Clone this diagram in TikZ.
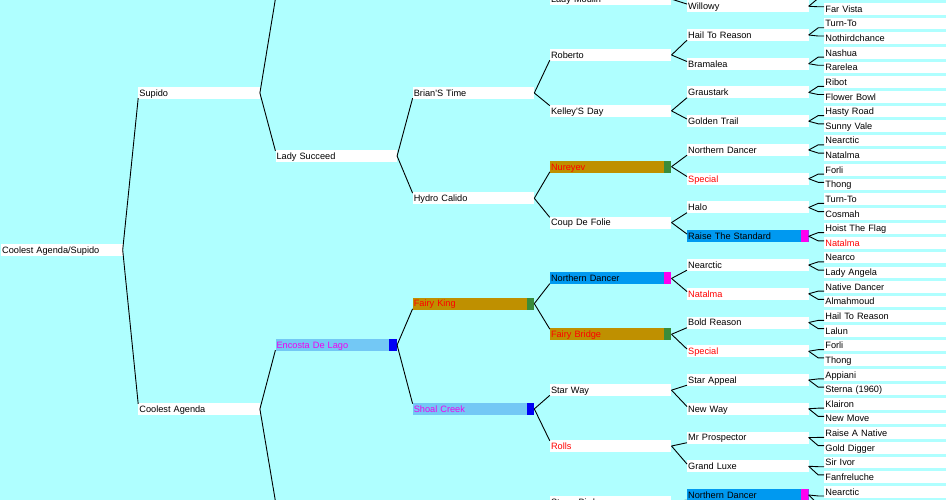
\documentclass[tikz,border=0pt]{standalone}
\usepackage{fontspec}
\setmainfont{Liberation Sans}
\definecolor{bg}{RGB}{175,255,255}
\definecolor{gold}{RGB}{191,144,0}
\definecolor{sqgreen}{RGB}{58,140,58}
\definecolor{nblue}{RGB}{0,153,240}
\definecolor{sqmag}{RGB}{255,0,240}
\definecolor{lblue}{RGB}{115,200,245}
\definecolor{sqblue}{RGB}{0,0,245}
\definecolor{txtmag}{RGB}{240,0,240}
\definecolor{txtred}{RGB}{255,0,0}
\tikzset{
  conn/.style={draw=black,line width=0.9pt},
  box/.style={fill=white,anchor=west,inner xsep=1pt,inner ysep=0pt,text width=119.3pt,align=left,
    minimum height=12pt,text height=9.3pt,text depth=2.7pt,font=\fontsize{9.2}{11}\selectfont},
  boxg/.style={box,minimum height=11.6pt,text height=9.1pt,text depth=2.5pt,text width=125pt},
  redtxt/.style={text=txtred},
  tagged/.style 2 args={fill=#1,path picture={\fill[#2] ([xshift=-7.5pt]path picture bounding box.north east) rectangle (path picture bounding box.south east);}},
  goldbox/.style={tagged={gold}{sqgreen},text=txtred},
  bluebox/.style={tagged={nblue}{sqmag}},
  lbluebox/.style={tagged={lblue}{sqblue},text=txtmag}}
\newcommand\linkup[2]{\draw[conn] (#1.east) -- ([yshift=1pt]#2.south west);}
\newcommand\linkdn[2]{\draw[conn] (#1.east) -- ([yshift=-1pt]#2.north west);}
\newcommand\linkdnb[2]{\draw[conn] (#1.east) -- ([yshift=-4pt]#2.north west);}
\newcommand\linkupg[2]{\draw[conn] (#1.east) -- ([xshift=-6pt,yshift=1.8pt]#2.south west) -- ([yshift=1.8pt]#2.south west);}
\newcommand\linkdng[2]{\draw[conn] (#1.east) -- ([xshift=-6pt,yshift=-3.8pt]#2.north west) -- ([yshift=-3.8pt]#2.north west);}
\begin{document}
\begin{tikzpicture}[x=1pt,y=-1pt]
\useasboundingbox (0,0) rectangle (946,500);
\clip (0,0) rectangle (946,500);
\fill[bg] (0,0) rectangle (946,500);
% column 0
\node[box] (a) at (1,250) {Coolest Agenda/Supido};
% column 1
\node[box] (b0) at (138.2,93) {Supido};
\node[box] (b1) at (138.2,409) {Coolest Agenda};
% column 2
\coordinate (c2t) at (275.4,-1);
\node[box] (c0) at (275.4,156) {Lady Succeed};
\node[box,lbluebox] (c1) at (275.4,345) {Encosta De Lago};
\coordinate (c2b) at (275.4,501);
% column 3
\node[box] (d0) at (412.6,93) {Brian\textquotesingle S Time};
\node[box] (d1) at (412.6,198.3) {Hydro Calido};
\node[box,goldbox] (d2) at (412.6,303.6) {Fairy King};
\node[box,lbluebox] (d3) at (412.6,408.9) {Shoal Creek};
% column 4
\node[box] (eM) at (549.8,-0.86) {Lady Moulin};
\node[box] (e0) at (549.8,55) {Roberto};
\node[box] (e1) at (549.8,110.86) {Kelley\textquotesingle S Day};
\node[box,goldbox] (e2) at (549.8,166.72) {Nureyev};
\node[box] (e3) at (549.8,222.58) {Coup De Folie};
\node[box,bluebox] (e4) at (549.8,278.44) {Northern Dancer};
\node[box,goldbox] (e5) at (549.8,334.3) {Fairy Bridge};
\node[box] (e6) at (549.8,390.16) {Star Way};
\node[box,redtxt] (e7) at (549.8,446.02) {Rolls};
\node[box] (e8) at (549.8,501.88) {Storm Bird};
% column 5
\node[box] (fM) at (687,6.25) {Willowy};
\node[box] (f0) at (687,35) {Hail To Reason};
\node[box] (f1) at (687,63.75) {Bramalea};
\node[box] (f2) at (687,92.5) {Graustark};
\node[box] (f3) at (687,121.25) {Golden Trail};
\node[box] (f4) at (687,150) {Northern Dancer};
\node[box,redtxt] (f5) at (687,178.75) {Special};
\node[box] (f6) at (687,207.5) {Halo};
\node[box,bluebox] (f7) at (687,236.25) {Raise The Standard};
\node[box] (f8) at (687,265) {Nearctic};
\node[box,redtxt] (f9) at (687,293.75) {Natalma};
\node[box] (f10) at (687,322.5) {Bold Reason};
\node[box,redtxt] (f11) at (687,351.25) {Special};
\node[box] (f12) at (687,380) {Star Appeal};
\node[box] (f13) at (687,408.75) {New Way};
\node[box] (f14) at (687,437.5) {Mr Prospector};
\node[box] (f15) at (687,466.25) {Grand Luxe};
\node[box,bluebox] (f16) at (687,495) {Northern Dancer};
% column 6
\coordinate (gMM) at (824.2,-1.66);
\node[boxg] (gM) at (824.2,8.97) {Far Vista};
\node[boxg] (g0) at (824.2,23.6) {Turn-To};
\node[boxg] (g1) at (824.2,38.23) {Nothirdchance};
\node[boxg] (g2) at (824.2,52.86) {Nashua};
\node[boxg] (g3) at (824.2,67.49) {Rarelea};
\node[boxg] (g4) at (824.2,82.12) {Ribot};
\node[boxg] (g5) at (824.2,96.75) {Flower Bowl};
\node[boxg] (g6) at (824.2,111.38) {Hasty Road};
\node[boxg] (g7) at (824.2,126.01) {Sunny Vale};
\node[boxg] (g8) at (824.2,140.64) {Nearctic};
\node[boxg] (g9) at (824.2,155.27) {Natalma};
\node[boxg] (g10) at (824.2,169.9) {Forli};
\node[boxg] (g11) at (824.2,184.53) {Thong};
\node[boxg] (g12) at (824.2,199.16) {Turn-To};
\node[boxg] (g13) at (824.2,213.79) {Cosmah};
\node[boxg] (g14) at (824.2,228.42) {Hoist The Flag};
\node[boxg,redtxt] (g15) at (824.2,243.05) {Natalma};
\node[boxg] (g16) at (824.2,257.68) {Nearco};
\node[boxg] (g17) at (824.2,272.31) {Lady Angela};
\node[boxg] (g18) at (824.2,286.94) {Native Dancer};
\node[boxg] (g19) at (824.2,301.57) {Almahmoud};
\node[boxg] (g20) at (824.2,316.2) {Hail To Reason};
\node[boxg] (g21) at (824.2,330.83) {Lalun};
\node[boxg] (g22) at (824.2,345.46) {Forli};
\node[boxg] (g23) at (824.2,360.09) {Thong};
\node[boxg] (g24) at (824.2,374.72) {Appiani};
\node[boxg] (g25) at (824.2,389.35) {Sterna (1960)};
\node[boxg] (g26) at (824.2,403.98) {Klairon};
\node[boxg] (g27) at (824.2,418.61) {New Move};
\node[boxg] (g28) at (824.2,433.24) {Raise A Native};
\node[boxg] (g29) at (824.2,447.87) {Gold Digger};
\node[boxg] (g30) at (824.2,462.5) {Sir Ivor};
\node[boxg] (g31) at (824.2,477.13) {Fanfreluche};
\node[boxg] (g32) at (824.2,491.76) {Nearctic};
\coordinate (g33) at (824.2,504.4);
% connectors
\linkup{a}{b0}\linkdn{a}{b1}
\draw[conn] (b0.east) -- (c2t); \linkdn{b0}{c0}
\linkup{b1}{c1} \draw[conn] (b1.east) -- (c2b);
\linkup{c0}{d0}\linkdn{c0}{d1}
\linkup{c1}{d2}\linkdn{c1}{d3}
\linkup{d0}{e0}\linkdn{d0}{e1}
\linkup{d1}{e2}\linkdn{d1}{e3}
\linkup{d2}{e4}\linkdn{d2}{e5}
\linkup{d3}{e6}\linkdn{d3}{e7}
\linkdnb{eM}{fM}
\linkup{e0}{f0}\linkdnb{e0}{f1}
\linkup{e1}{f2}\linkdnb{e1}{f3}
\linkup{e2}{f4}\linkdnb{e2}{f5}
\linkup{e3}{f6}\linkdnb{e3}{f7}
\linkup{e4}{f8}\linkdnb{e4}{f9}
\linkup{e5}{f10}\linkdnb{e5}{f11}
\linkup{e6}{f12}\linkdnb{e6}{f13}
\linkup{e7}{f14}\linkdnb{e7}{f15}
\linkup{e8}{f16}
\draw[conn] (fM.east) -- ([xshift=-6pt]gMM) -- (gMM); \linkdng{fM}{gM}
\linkupg{f0}{g0}\linkdng{f0}{g1}
\linkupg{f1}{g2}\linkdng{f1}{g3}
\linkupg{f2}{g4}\linkdng{f2}{g5}
\linkupg{f3}{g6}\linkdng{f3}{g7}
\linkupg{f4}{g8}\linkdng{f4}{g9}
\linkupg{f5}{g10}\linkdng{f5}{g11}
\linkupg{f6}{g12}\linkdng{f6}{g13}
\linkupg{f7}{g14}\linkdng{f7}{g15}
\linkupg{f8}{g16}\linkdng{f8}{g17}
\linkupg{f9}{g18}\linkdng{f9}{g19}
\linkupg{f10}{g20}\linkdng{f10}{g21}
\linkupg{f11}{g22}\linkdng{f11}{g23}
\linkupg{f12}{g24}\linkdng{f12}{g25}
\linkupg{f13}{g26}\linkdng{f13}{g27}
\linkupg{f14}{g28}\linkdng{f14}{g29}
\linkupg{f15}{g30}\linkdng{f15}{g31}
\linkupg{f16}{g32}
\draw[conn] (f16.east) -- ([xshift=-6pt]g33) -- (g33);
\end{tikzpicture}
\end{document}
